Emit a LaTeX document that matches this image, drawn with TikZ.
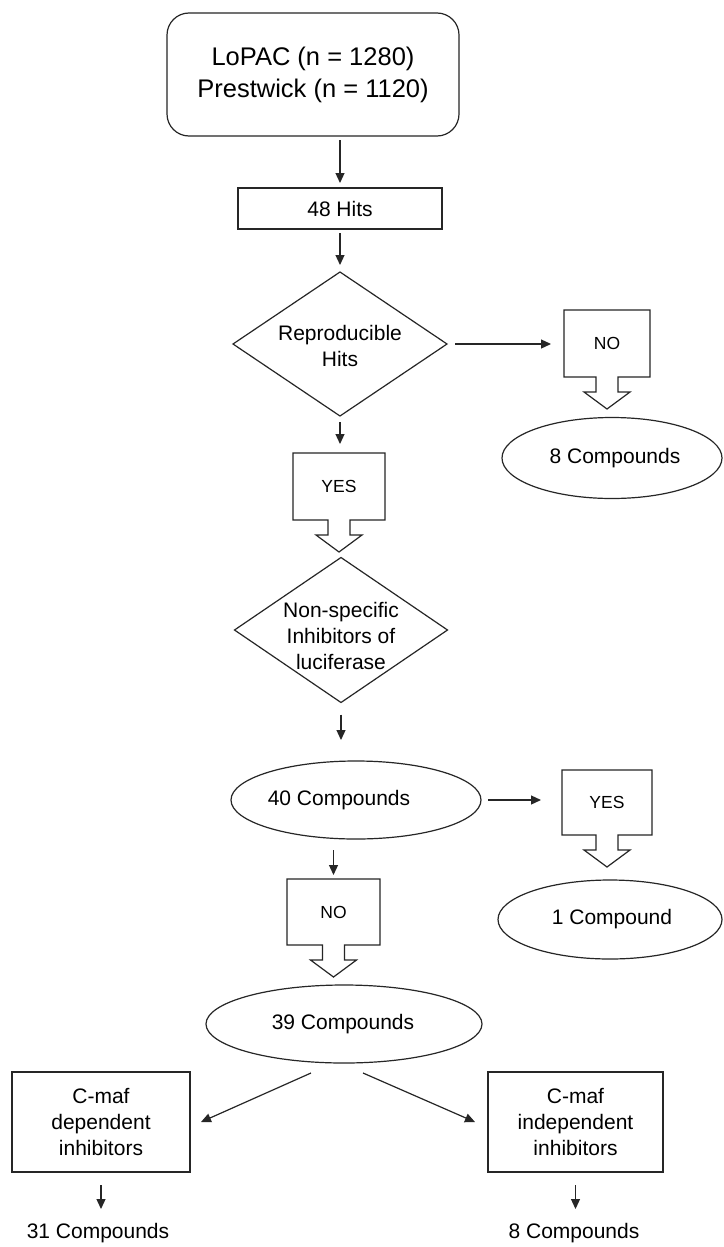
\documentclass[tikz,border=0pt]{standalone}
\usepackage{fontspec}
\setmainfont{Liberation Sans}
\usetikzlibrary{shapes.geometric, arrows.meta}
\newcommand{\mycallout}[6]{%
  \node[cbox, minimum width=#4pt, minimum height=#5pt] (#1) at (#2,{#3+#5/2}) {#6};
  \draw[line, line join=miter] (#1.south west) -- (#1.north west) -- (#1.north east) -- (#1.south east)
    -- ([xshift=11pt]#1.south) -- ++(0,15) -- ++(12,0) -- ++(-23,17) -- ++(-23,-17) -- ++(12,0) -- ++(0,-15) -- cycle;
}
\begin{document}
\begin{tikzpicture}[x=1pt,y=-1pt,
  line/.style={draw=black!85, line width=1.2pt},
  arr/.style={line, -{Triangle[length=10pt,width=9pt]}},
  lbl/.style={font=\fontsize{21}{26}\selectfont, align=center, inner sep=0pt},
  cbox/.style={rectangle, draw=none, inner sep=0pt, outer sep=0pt, font=\fontsize{17.5}{20}\selectfont},
  boxn/.style={rectangle, line, inner sep=0pt, outer sep=0pt, align=center, font=\fontsize{21}{26}\selectfont},
  dia/.style={diamond, line, inner sep=0pt, outer sep=0pt},
  ell/.style={ellipse, line, inner sep=0pt, outer sep=0pt}
]
\fill[white] (0,0) rectangle (723,1247);
\useasboundingbox (0,0) rectangle (723,1247);

% top
\node[boxn, rounded corners=22pt, minimum width=292pt, minimum height=123pt,
      font=\fontsize{25.5}{32}\selectfont] (top) at (313,74.5) {LoPAC (n = 1280)\\Prestwick (n = 1120)};
\node[boxn, minimum width=204pt, minimum height=41pt] (hits) at (340,208.5) {48 Hits};

% diamond 1
\node[dia, minimum width=214pt, minimum height=144pt] (d1) at (340,344) {};
\node[lbl] (d1t) at (340,346) {Reproducible\\Hits};

% callouts
\mycallout{no1}{607}{310}{86}{67}{NO}
\node[ell, minimum width=220pt, minimum height=81pt] (e8) at (612,458) {};
\node[lbl] (e8t) at (615,458) {8 Compounds};

\mycallout{yes1}{339}{453}{92}{67}{YES}

% diamond 2
\node[dia, minimum width=213pt, minimum height=145pt] (d2) at (341,630) {};
\node[lbl] (d2t) at (341,636) {Non-specific\\Inhibitors of\\luciferase};

% 40 compounds
\node[ell, minimum width=250pt, minimum height=78pt] (e40) at (356,800) {};
\node[lbl] (e40t) at (339,800) {40 Compounds};

\mycallout{yes2}{607}{770}{90}{65}{YES}
\node[ell, minimum width=224pt, minimum height=79pt] (e1) at (610,919.5) {};
\node[lbl] (e1t) at (612,919.5) {1 Compound};

\mycallout{no2}{333.5}{879}{93}{66}{NO}

% 39 compounds
\node[ell, minimum width=276pt, minimum height=78pt] (e39) at (344,1024) {};
\node[lbl] (e39t) at (343,1024) {39 Compounds};

\node[boxn, minimum width=178pt, minimum height=100pt] (cl) at (101,1122) {C-maf\\dependent\\inhibitors};
\node[boxn, minimum width=175pt, minimum height=100pt] (cr) at (575.5,1122) {C-maf\\independent\\inhibitors};

\node[lbl] (t31) at (98,1233) {31 Compounds};
\node[lbl] (t8) at (574,1233) {8 Compounds};

% connectors
\draw[arr, shorten <=4pt, shorten >=5pt] (top.south -| hits.north) -- (hits.north);
\draw[arr, shorten <=4pt, shorten >=7pt] (hits.south) -- (d1.north);
\draw[arr, shorten <=6pt, shorten >=9pt] (d1.south) -- (d1.south |- yes1.north);
\draw[arr, shorten <=8pt, shorten >=13pt] (d1.east) -- (d1.east -| no1.west);
\draw[arr, shorten <=12pt, shorten >=21pt] (d2.south) -- (d2.south |- e40.north);
\draw[arr, shorten <=7pt, shorten >=21pt] (e40.east) -- (e40.east -| yes2.west);
\draw[arr, shorten <=11pt, shorten >=4pt] (no2.north |- e40.south) -- (no2.north);
\draw[arr] ([xshift=-33pt,yshift=-10pt]e39.south) -- ([xshift=11pt]cl.east);
\draw[arr] ([xshift=19pt,yshift=-10pt]e39.south) -- ([xshift=-13pt]cr.west);
\draw[arr, shorten <=13pt, shorten >=14pt] (cl.south) -- (cl.south |- t31.north);
\draw[arr, shorten <=13pt, shorten >=14pt] (cr.south) -- (cr.south |- t8.north);
\end{tikzpicture}
\end{document}
